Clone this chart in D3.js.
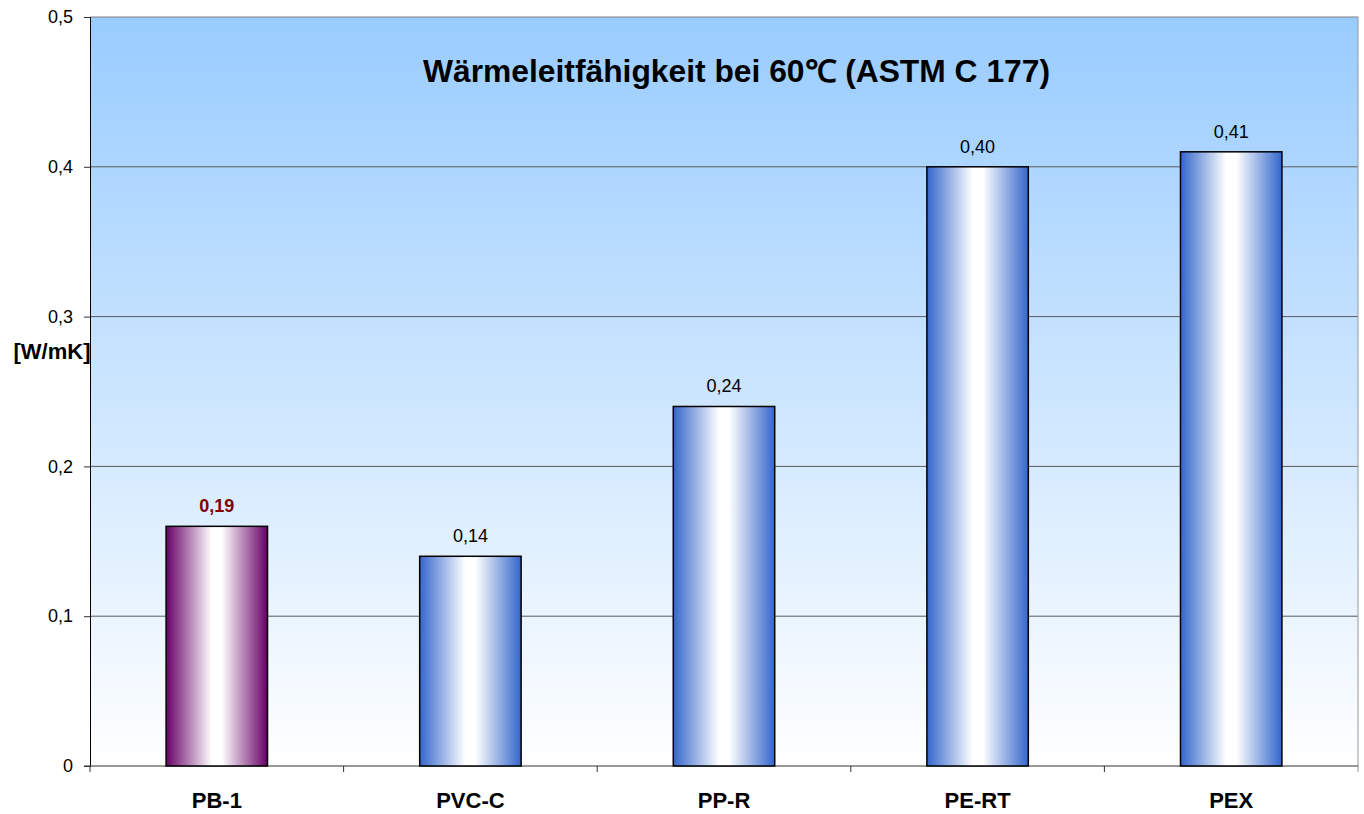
<!DOCTYPE html>
<html>
<head>
<meta charset="utf-8">
<script src="https://cdn.jsdelivr.net/npm/d3@7"></script>
<style>
  body { margin: 0; background: #fff; }
  text { font-family: "Liberation Sans", Arial, sans-serif; }
</style>
</head>
<body>
<svg width="1364" height="814"></svg>
<script>
var categories = ["PB-1", "PVC-C", "PP-R", "PE-RT", "PEX"];
var values = [0.16, 0.14, 0.24, 0.40, 0.41];
var valueLabels = ["0,19", "0,14", "0,24", "0,40", "0,41"];
var yTicks = [0, 0.1, 0.2, 0.3, 0.4, 0.5];
var titleText = "Wärmeleitfähigkeit bei 60\u2103 (ASTM C 177)";
var unitText = "[W/mK]";

var svg = d3.select("svg"),
    margin = {top: 17, right: 6, bottom: 48, left: 90},
    width = 1364 - margin.left - margin.right,
    height = 814 - margin.top - margin.bottom,
    g = svg.append("g").attr("transform", "translate(" + margin.left + "," + margin.top + ")");

var defs = svg.append("defs");

var bg = defs.append("linearGradient").attr("id", "bg")
    .attr("x1", 0).attr("y1", 0).attr("x2", 0).attr("y2", 1);
bg.append("stop").attr("offset", "0%").attr("stop-color", "#99ccff");
bg.append("stop").attr("offset", "100%").attr("stop-color", "#ffffff");

function barGrad(id, edge) {
  var gr = defs.append("linearGradient").attr("id", id)
      .attr("x1", 0).attr("y1", 0).attr("x2", 1).attr("y2", 0);
  gr.append("stop").attr("offset", "0%").attr("stop-color", edge);
  gr.append("stop").attr("offset", "45%").attr("stop-color", "#ffffff");
  gr.append("stop").attr("offset", "55%").attr("stop-color", "#ffffff");
  gr.append("stop").attr("offset", "100%").attr("stop-color", edge);
}
barGrad("blueBar", "#3366cc");
barGrad("purpleBar", "#660066");

var x = d3.scaleBand().domain(categories).range([0, width]).paddingInner(0.6).paddingOuter(0.3);
var xb = d3.scaleBand().domain(categories).range([0, width]);
var y = d3.scaleLinear().domain([0, 0.5]).range([height, 0]);

// plot area
g.append("rect")
    .attr("width", width).attr("height", height)
    .attr("fill", "url(#bg)");

// grid lines
g.selectAll(".grid")
  .data(yTicks.filter(function(d) { return d > 0; }))
  .enter().append("line")
    .attr("x1", 0).attr("x2", width)
    .attr("y1", function(d) { return y(d); })
    .attr("y2", function(d) { return y(d); })
    .style("stroke", function(d) { return d === 0.5 ? "#808080" : "#5a5a5a"; })
    .style("stroke-width", 1);

// right border
g.append("line")
    .attr("x1", width).attr("x2", width)
    .attr("y1", 0).attr("y2", height + 6)
    .style("stroke", "#999");

// y axis
var yAxis = g.append("g")
    .call(d3.axisLeft(y).tickValues(yTicks).tickSize(6).tickPadding(11)
      .tickFormat(function(d) { return d3.format(".1f")(d).replace(".", ",").replace(/^0,0$/, "0"); }));
yAxis.select(".domain").attr("stroke", "#000");
yAxis.selectAll("text").attr("font-size", 18).style("font-size", "18px").attr("fill", "#000");
yAxis.selectAll(".tick line").attr("stroke", "#333");

// x axis
var xAxis = g.append("g")
    .attr("transform", "translate(0," + height + ")")
    .call(d3.axisBottom(x).tickSize(0).tickPadding(26));
xAxis.select(".domain").remove();
xAxis.selectAll("text").style("font-size", "22px").style("font-weight", "bold").attr("fill", "#000");
g.append("line")
    .attr("x1", -6).attr("x2", width)
    .attr("y1", height).attr("y2", height)
    .style("stroke", "#333");
g.selectAll(".xtick")
  .data(categories)
  .enter().append("line")
    .attr("x1", function(d) { return xb(d); })
    .attr("x2", function(d) { return xb(d); })
    .attr("y1", height).attr("y2", height + 6)
    .style("stroke", "#333");

// bars
g.selectAll(".bar")
  .data(values)
  .enter().append("rect")
    .attr("x", function(d, i) { return x(categories[i]); })
    .attr("y", function(d) { return y(d); })
    .attr("width", x.bandwidth())
    .attr("height", function(d) { return height - y(d); })
    .attr("fill", function(d, i) { return i === 0 ? "url(#purpleBar)" : "url(#blueBar)"; })
    .style("stroke", "#000")
    .style("stroke-width", 1.5);

// value labels
g.selectAll(".vlabel")
  .data(values)
  .enter().append("text")
    .attr("x", function(d, i) { return x(categories[i]) + x.bandwidth() / 2; })
    .attr("y", function(d) { return y(d) - 14; })
    .attr("text-anchor", "middle")
    .style("font-size", "18px")
    .style("font-weight", function(d, i) { return i === 0 ? "bold" : "normal"; })
    .style("fill", function(d, i) { return i === 0 ? "#800000" : "#000"; })
    .text(function(d, i) { return valueLabels[i]; });

// title
g.append("text")
    .attr("x", 333).attr("y", 65)
    .attr("textLength", 627)
    .attr("lengthAdjust", "spacingAndGlyphs")
    .style("font-size", "31px")
    .style("font-weight", "bold")
    .text(titleText);

// unit label
svg.append("text")
    .attr("x", 52).attr("y", 359)
    .attr("text-anchor", "middle")
    .style("font-size", "22px")
    .style("font-weight", "bold")
    .text(unitText);
</script>
</body>
</html>
